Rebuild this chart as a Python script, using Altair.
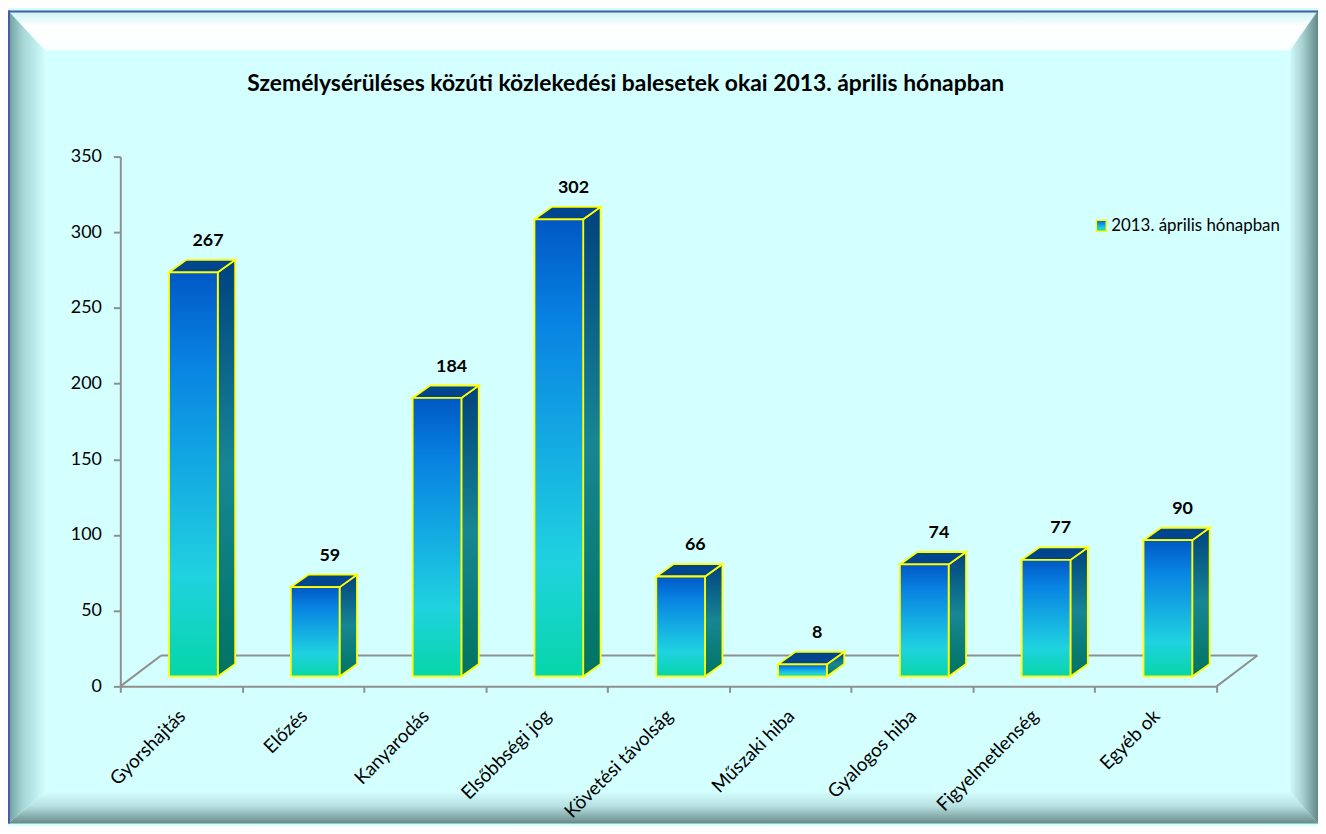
import altair as alt
import pandas as pd

# ---------------- data ----------------
categories = ["Gyorshajtás", "Előzés", "Kanyarodás", "Elsőbbségi jog",
              "Követési távolság", "Műszaki hiba", "Gyalogos hiba",
              "Figyelmetlenség", "Egyéb ok"]
values = [267, 59, 184, 302, 66, 8, 74, 77, 90]
y_ticks = [0, 50, 100, 150, 200, 250, 300, 350]
title_text = "Személysérüléses közúti közlekedési balesetek okai 2013. április hónapban"
legend_label = "2013. április hónapban"

# ---------------- layout constants ----------------
N = len(categories)
W, H = 1103, 533
PAD = {"left": 113, "top": 147, "right": 102, "bottom": 138}
YMAX = 350
PXX = W / N          # px per category
PXY = H / YMAX       # px per unit

def ux(px):
    return px / PXX

def uy(py):
    return (H - py) / PXY

BASE = 10 / PXY
BAR_L, BAR_R = 0.40, 0.80
DXB, DZB = 17.5 / PXX, 12.5 / PXY
DXF, DZF = 41 / PXX, 31 / PXY
FONT = "Lato"
AXIS_GRAY = "#8f8f8f"
YELLOW = "#ffff00"

xs = alt.Scale(domain=[0, N], nice=False, zero=False)
ys = alt.Scale(domain=[0, YMAX], nice=False, zero=False)

X_AX = alt.Axis(values=list(range(N + 1)), labels=False, tickSize=6, tickWidth=2,
                tickColor=AXIS_GRAY, domainColor=AXIS_GRAY, domainWidth=2, grid=False,
                title=None)
Y_AX = alt.Axis(values=y_ticks, tickSize=7, tickWidth=2, tickColor=AXIS_GRAY,
                domainColor=AXIS_GRAY, domainWidth=2, grid=False,
                labelFont=FONT, labelFontSize=18, labelColor="#000000",
                labelPadding=12, title=None)

def X(f, **kw):
    return alt.X(f, scale=xs, axis=X_AX, title=None, **kw)

def Y(f, **kw):
    return alt.Y(f, scale=ys, axis=Y_AX, title=None, **kw)

def grad(stops, vertical=True):
    return alt.Gradient(
        gradient="linear",
        stops=[alt.GradientStop(offset=o, color=c) for o, c in stops],
        x1=0, y1=0, x2=0 if vertical else 1, y2=1 if vertical else 0)

# ---------------- frame (bevel) ----------------
L, R, T, B = -113, 1205, -147, 671
tw, lw, rw, bw = 40, 37, 28, 32
top_bevel = pd.DataFrame({"y": [uy(T), uy(T + tw)], "x": [ux(L), ux(L + lw)], "x2": [ux(R), ux(R - rw)]})
bot_bevel = pd.DataFrame({"y": [uy(B - bw), uy(B)], "x": [ux(L + lw), ux(L)], "x2": [ux(R - rw), ux(R)]})
left_bevel = pd.DataFrame({"x": [ux(L), ux(L + lw)], "y": [uy(T), uy(T + tw)], "y2": [uy(B), uy(B - bw)]})
right_bevel = pd.DataFrame({"x": [ux(R - rw), ux(R)], "y": [uy(T + tw), uy(T)], "y2": [uy(B - bw), uy(B)]})

def hbevel(d, g):
    return alt.Chart(d).mark_area(orient="horizontal", fill=g, strokeWidth=0).encode(
        y=Y("y:Q"), x=X("x:Q", stack=None), x2="x2:Q")

def vbevel(d, g):
    return alt.Chart(d).mark_area(orient="vertical", fill=g, strokeWidth=0).encode(
        x=X("x:Q"), y=Y("y:Q", stack=None), y2="y2:Q")

frame = [
    hbevel(top_bevel, grad([(0, "#c6f4f4"), (0.4, "#ffffff"), (1, "#fbffff")])),
    hbevel(bot_bevel, grad([(0, "#d4fefe"), (0.45, "#b8e2e2"), (1, "#678888")])),
    vbevel(left_bevel, grad([(0, "#6e9c9c"), (0.4, "#a6d6d6"), (1, "#d0fcfc")], vertical=False)),
    vbevel(right_bevel, grad([(0, "#d0fafa"), (0.45, "#a8d0d0"), (1, "#628888")], vertical=False)),
]

border = pd.DataFrame({"x": [ux(L), ux(L + 1)], "x2": [ux(R), ux(L + 1)],
                       "y": [uy(T + 1), uy(T)], "y2": [uy(T + 1), uy(B)]})
border_layer = alt.Chart(border).mark_rule(color="#4a5aa8", strokeWidth=2).encode(
    x=X("x:Q"), x2="x2:Q", y=Y("y:Q"), y2="y2:Q")

# ---------------- floor ----------------
floor = pd.DataFrame({"x": [0, DXF, N], "x2": [DXF, N + DXF, N + DXF],
                      "y": [0, DZF, 0], "y2": [DZF, DZF, DZF]})
floor_layer = alt.Chart(floor).mark_rule(color=AXIS_GRAY, strokeWidth=2).encode(
    x=X("x:Q"), x2="x2:Q", y=Y("y:Q"), y2="y2:Q")

# ---------------- bars ----------------
df = pd.DataFrame({"idx": list(range(N)), "cat": categories, "val": values})
df["x0"] = df["idx"] + BAR_L
df["x1"] = df["idx"] + BAR_R
df["y0"] = BASE
df["y1"] = df["val"] + BASE
df["lab_x"] = df["idx"] + 0.72
df["lab_y"] = df["val"] + 24
df["cat_x"] = df["idx"] + 0.51

side = pd.concat([
    pd.DataFrame({"idx": df["idx"], "x": df["x1"], "lo": BASE, "hi": df["val"] + BASE}),
    pd.DataFrame({"idx": df["idx"], "x": df["x1"] + DXB, "lo": BASE + DZB, "hi": df["val"] + BASE + DZB}),
])
topf = pd.concat([
    pd.DataFrame({"idx": df["idx"], "y": df["val"] + BASE, "xa": df["x0"], "xb": df["x1"]}),
    pd.DataFrame({"idx": df["idx"], "y": df["val"] + BASE + DZB, "xa": df["x0"] + DXB, "xb": df["x1"] + DXB}),
])

front_grad = grad([(0, "#0058c4"), (0.22, "#0882e2"), (0.5, "#14ace2"), (0.75, "#20d2e0"), (1, "#06d6a8")])
side_grad = grad([(0, "#00427f"), (0.5, "#178694"), (1, "#007462")])

side_layer = alt.Chart(side).mark_area(orient="vertical", fill=side_grad, stroke=YELLOW,
                                        strokeWidth=1.8, strokeJoin="miter").encode(
    x=X("x:Q"), y=Y("lo:Q", stack=None), y2="hi:Q", detail="idx:N")

top_layer = alt.Chart(topf).mark_area(orient="horizontal", fill="#00468f", stroke=YELLOW,
                                       strokeWidth=1.8, strokeJoin="miter").encode(
    y=Y("y:Q"), x=X("xa:Q", stack=None), x2="xb:Q", detail="idx:N")

front_layer = alt.Chart(df).mark_rect(fill=front_grad, stroke=YELLOW, strokeWidth=1.8).encode(
    x=X("x0:Q"), x2="x1:Q", y=Y("y0:Q"), y2="y1:Q")

value_labels = alt.Chart(df).mark_text(font=FONT, fontSize=18, fontWeight="bold",
                                        color="#000000", baseline="alphabetic").encode(
    x=X("lab_x:Q"), y=Y("lab_y:Q"), text="val:Q")

cat_labels = alt.Chart(df).mark_text(font=FONT, fontSize=19, color="#000000", angle=315,
                                      align="right", baseline="middle").encode(
    x=X("cat_x:Q"), y=alt.value(H + 27), text="cat:N")

# ---------------- legend + title ----------------
one = pd.DataFrame({"k": [0]})
legend_box = alt.Chart(one).mark_rect(fill=front_grad, stroke=YELLOW, strokeWidth=1.5).encode(
    x=alt.value(982), x2=alt.value(992), y=alt.value(64), y2=alt.value(75))
legend_text = alt.Chart(one).mark_text(font=FONT, fontSize=17, color="#000000", align="left",
                                       baseline="alphabetic").encode(
    x=alt.value(997), y=alt.value(75), text=alt.value(legend_label))
title_layer = alt.Chart(one).mark_text(font=FONT, fontSize=23, fontWeight="bold", color="#000000",
                                       align="center", baseline="alphabetic").encode(
    x=alt.value(508.5), y=alt.value(-66), text=alt.value(title_text))

chart = alt.layer(
    *frame, border_layer, floor_layer,
    side_layer, top_layer, front_layer, value_labels, cat_labels,
    legend_box, legend_text, title_layer
).properties(
    width=W, height=H,
    autosize=alt.AutoSizeParams(type="none"),
    padding=PAD,
    background="#d4ffff",
).configure_view(stroke=None)

chart.save("out.html", embed_options={"renderer": "svg", "actions": False})
